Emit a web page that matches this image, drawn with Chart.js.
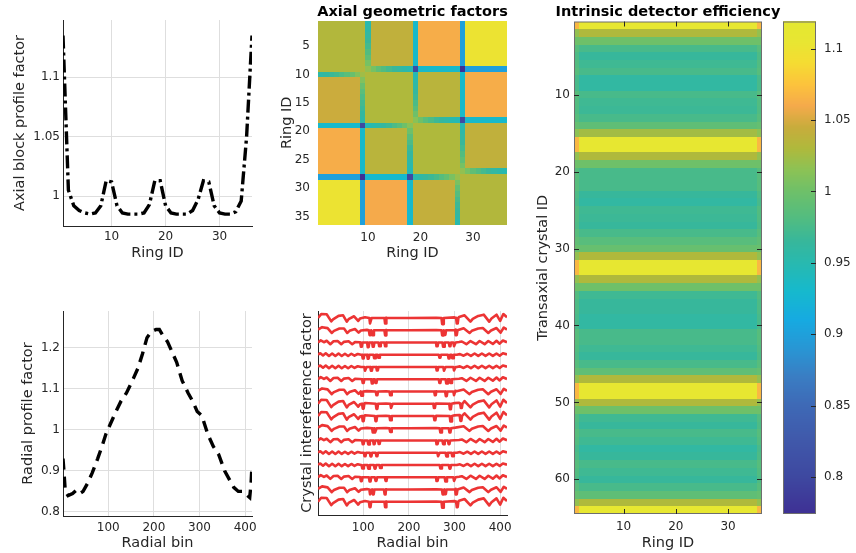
<!DOCTYPE html>
<html>
<head>
<meta charset="utf-8">
<title>Normalization components</title>
<script src="https://cdn.jsdelivr.net/npm/chart.js@4.4.1/dist/chart.umd.min.js"></script>
<style>
  html, body { margin: 0; padding: 0; background: #fff; }
  #fig { position: relative; width: 856px; height: 553px; overflow: hidden; background: #fff; }
  #fig canvas { position: absolute; }
</style>
</head>
<body>
<div id="fig">
  <canvas id="cBlock"></canvas>
  <canvas id="cGeom"></canvas>
  <canvas id="cEff"></canvas>
  <canvas id="cBar"></canvas>
  <canvas id="cRadial"></canvas>
  <canvas id="cCrystal"></canvas>
</div>
<script>
/* ---------------- values ---------------- */
const ringIds = [1,2,3,4,5,6,7,8,9,10,11,12,13,14,15,16,17,18,19,20,21,22,23,24,25,26,27,28,29,30,31,32,33,34,35,36];
const blockProfile = [1.135,1.005,0.992,0.988,0.986,0.985,0.986,0.992,1.013,1.012,0.992,0.986,0.985,0.985,0.985,0.986,0.993,1.013,
                      1.013,0.992,0.986,0.985,0.985,0.985,0.988,0.997,1.013,1.012,0.992,0.986,0.985,0.985,0.987,0.996,1.05,1.135];
const blockTicksX = [10, 20, 30];
const blockTicksY = [1, 1.05, 1.1];

const radialBins    = [1,3,6,12,22,30,38,45,55,65,77,88,95,105,115,128,140,155,165,175,185,195,205,212,220,230,240,250,
                       262,275,285,295,305,318,330,342,355,365,375,385,395,405,410,413,415];
const radialProfile = [0.93,0.90,0.85,0.84,0.845,0.853,0.845,0.85,0.87,0.895,0.93,0.965,0.99,1.015,1.04,1.07,1.09,1.125,1.15,1.185,1.225,1.24,1.245,1.245,
                       1.23,1.215,1.19,1.165,1.12,1.09,1.07,1.045,1.035,0.99,0.96,0.94,0.9,0.88,0.86,0.85,0.85,0.84,0.835,0.87,0.915];
const radialTicksX = [100, 200, 300, 400];
const radialTicksY = [0.8, 0.9, 1, 1.1, 1.2];

// crystal interference: edge ripple shapes ([bin, offset]) and per-line notches ([bin, depth])
const wiggleBig   = [[1,0],[8,.32],[20,.3],[30,-.28],[34,-.12],[46,.17],[56,.22],[64,-.3],[68,-.1],[80,.14],[89,-.24],[93,-.05],[104,.06],[150,.02],[200,0],
                     [260,.02],[300,.05],[310,.08],[322,.22],[335,-.3],[340,-.08],[352,.17],[364,.27],[376,-.3],[381,-.05],[392,.27],[400,-.24],[407,.32],[415,.05]];
const wiggleMid   = [[1,.05],[10,.25],[22,.17],[31,-.22],[36,-.05],[48,.14],[58,.14],[65,-.22],[70,-.05],[82,.1],[90,-.2],[95,-.02],[108,.03],[150,.02],[200,0],
                     [260,.01],[302,.05],[320,.16],[333,-.22],[338,-.05],[352,.14],[362,.18],[374,-.22],[380,-.02],[392,.18],[401,-.2],[408,.22],[415,.05]];
const wiggleSmall = [[1,0],[7,.17],[14,.02],[20,.14],[28,-.14],[35,.1],[44,.12],[52,-.14],[58,.05],[68,.1],[76,-.14],[82,.03],[92,.02],[150,0],[200,0],
                     [260,0],[310,.04],[316,.08],[326,-.14],[335,.12],[347,-.14],[355,.12],[366,-.14],[374,.12],[384,-.12],[392,.14],[399,-.1],[406,.16],[415,.02]];
const wiggleFlat  = [[1,.02],[6,.12],[12,-.06],[18,.12],[25,-.1],[32,.1],[39,-.1],[46,.1],[53,-.1],[60,.08],[67,-.1],[74,.08],[81,-.08],[88,.06],[95,0],[200,0],
                     [305,0],[312,.05],[320,-.08],[328,.08],[336,-.1],[344,.1],[352,-.1],[360,.1],[368,-.1],[376,.1],[384,-.1],[392,.1],[399,-.08],[406,.12],[415,.02]];
const lineWiggle = ['big','mid','small','flat','flat','small','mid','big','big','mid','small','flat','flat','small','mid','big'];
const lineNotches = [
  [[116,-.45],[149,-.45],[274,-.5],[306,-.45]],
  [[115,-.4],[121,-.4],[149,-.42],[274,-.42],[279,-.38],[304,-.4]],
  [[96,-.35],[111,-.38],[122,-.35],[136,-.3],[149,-.3],[262,-.3],[276,-.35],[290,-.3],[300,-.3]],
  [[100,-.3],[111,-.32],[125,-.28],[134,-.25],[268,-.25],[288,-.3],[296,-.28]],
  [[105,-.3],[118,-.3],[131,-.28],[262,-.28],[278,-.3],[300,-.28]],
  [[100,-.3],[120,-.35],[128,-.3],[268,-.3],[283,-.35],[292,-.3]],
  [[97,-.35],[130,-.3],[160,-.3],[258,-.3],[282,-.38],[300,-.3]],
  [[100,-.4],[130,-.42],[162,-.35],[256,-.35],[291,-.45],[315,-.35]],
  [[100,-.42],[128,-.42],[160,-.35],[257,-.35],[292,-.45],[314,-.4]],
  [[122,-.35],[127,-.35],[160,-.3],[270,-.35],[290,-.35]],
  [[100,-.3],[112,-.32],[124,-.3],[135,-.28],[262,-.3],[276,-.3],[288,-.3]],
  [[104,-.28],[117,-.3],[130,-.28],[265,-.28],[283,-.3],[296,-.28]],
  [[99,-.28],[112,-.3],[126,-.3],[138,-.25],[270,-.28],[290,-.3]],
  [[96,-.32],[115,-.35],[128,-.3],[150,-.3],[262,-.3],[281,-.35],[300,-.3]],
  [[116,-.4],[122,-.4],[148,-.4],[275,-.4],[280,-.38],[304,-.4]],
  [[115,-.45],[149,-.45],[274,-.5],[306,-.45]]
];

// axial geometric factors: level per block pair, dip on block-edge rings by block separation
const ringsPerBlock = 9;
const geomBlockLevel = [
  [1.032, 1.040, 1.062, 1.100],
  [1.046, 1.030, 1.036, 1.062],
  [1.062, 1.036, 1.030, 1.040],
  [1.100, 1.060, 1.042, 1.032]
];
const geomEdgeDip = [0.09, 0.13, 0.2];
// adjacent-block dips fade toward the diagonal junction (index = rings away from it)
const geomAdjFade = [0.25, 0.4, 0.55, 0.65, 0.75, 0.82, 0.88, 0.94, 1];
const geomTicksX = [10, 20, 30];
const geomTicksY = [5, 10, 15, 20, 25, 30, 35];

// intrinsic detector efficiency: per transaxial crystal, and per-ring gain
const crystalEff = [1.11,1.03,1.0,0.975,0.965,0.97,0.975,0.96,0.96,0.975,0.97,0.968,0.975,0.99,1.025,1.11,
                    1.11,1.03,1.0,0.975,0.975,0.975,0.965,0.96,0.97,0.968,0.965,0.975,0.985,0.995,1.03,1.11,
                    1.11,1.03,1.0,0.97,0.965,0.965,0.96,0.96,0.975,0.975,0.97,0.965,0.975,0.99,1.03,1.11,
                    1.11,1.03,1.0,0.97,0.965,0.975,0.97,0.96,0.965,0.975,0.97,0.965,0.975,0.99,1.03,1.11];
const ringGain = [0.62,1,1,1,1,1,1,1,1,1,1,1,1,1,1,1,1,1,1,1,1,1,1,1,1,1,1,1,1,1,1,1,1,1,1,0.62];
const effTicksX = [10, 20, 30];
const effTicksY = [10, 20, 30, 40, 50, 60];

const cbarRange = [0.774, 1.119];
const cbarTicks = [0.8, 0.85, 0.9, 0.95, 1, 1.05, 1.1];
const cmapStops = [
  [0.774,[62,48,148]],[0.80,[62,72,160]],[0.825,[64,88,170]],[0.85,[62,105,182]],[0.87,[58,125,195]],
  [0.89,[40,150,212]],[0.91,[22,170,225]],[0.93,[22,185,205]],[0.95,[40,185,175]],[0.965,[55,183,155]],
  [0.98,[80,188,130]],[1.0,[110,192,105]],[1.015,[140,194,85]],[1.03,[175,185,60]],[1.045,[200,172,60]],
  [1.06,[245,170,75]],[1.075,[252,195,60]],[1.09,[245,220,50]],[1.105,[232,230,50]],[1.119,[228,232,48]]
];

/* ---------------- helpers ---------------- */
const AXIS = '#262626', GRID = '#dedede', FRAME = '#6e6e6e', FONT = '"DejaVu Sans", sans-serif';
Chart.defaults.font.family = FONT;
Chart.defaults.color = AXIS;
Chart.defaults.animation = false;
Chart.defaults.responsive = false;
Chart.defaults.events = [];
Chart.defaults.plugins.legend.display = false;
Chart.defaults.plugins.tooltip.enabled = false;

const fmt = v => String(Math.round(v * 1000) / 1000);

function cmap(v) {
  const s = cmapStops;
  if (v <= s[0][0]) return `rgb(${s[0][1]})`;
  for (let i = 1; i < s.length; i++) {
    if (v <= s[i][0]) {
      const t = (v - s[i - 1][0]) / (s[i][0] - s[i - 1][0]), a = s[i - 1][1], b = s[i][1];
      return `rgb(${a.map((c, k) => Math.round(c + (b[k] - c) * t)).join(',')})`;
    }
  }
  return `rgb(${s[s.length - 1][1]})`;
}

function place(id, x, y, w, h) {
  const el = document.getElementById(id);
  el.width = w; el.height = h;
  Object.assign(el.style, { left: x + 'px', top: y + 'px', width: w + 'px', height: h + 'px' });
  return el;
}

function axis(o) {
  return {
    type: 'linear', position: o.position, min: o.min, max: o.max, reverse: !!o.reverse, display: o.display !== false,
    afterBuildTicks: s => { s.ticks = (o.ticks || []).map(v => ({ value: v })); },
    afterFit: s => { if (s.isHorizontal()) s.height = o.size; else s.width = o.size; },
    grid: { display: !!o.grid, color: GRID, drawTicks: false, lineWidth: 1 },
    border: { display: !!o.border, color: AXIS, width: 1 },
    ticks: { display: o.showTicks !== false, padding: o.pad || 0, autoSkip: false, maxRotation: 0, color: AXIS, font: { size: 12 }, callback: v => fmt(v) },
    title: o.title ? { display: true, text: o.title, color: AXIS, font: { size: 14.5 }, padding: o.titlePad } : { display: false }
  };
}

const heatmap = (matrix) => ({
  id: 'heatmap',
  beforeDatasetsDraw(chart) {
    const { ctx, scales: { x, y }, chartArea: a } = chart;
    ctx.save();
    ctx.beginPath(); ctx.rect(a.left, a.top, a.width, a.height); ctx.clip();
    matrix.forEach((row, r) => row.forEach((v, c) => {
      const x0 = Math.round(x.getPixelForValue(c + 0.5)), x1 = Math.round(x.getPixelForValue(c + 1.5));
      const y0 = Math.round(y.getPixelForValue(r + 0.5)), y1 = Math.round(y.getPixelForValue(r + 1.5));
      ctx.fillStyle = cmap(v);
      ctx.fillRect(Math.min(x0, x1), Math.min(y0, y1), Math.abs(x1 - x0), Math.abs(y1 - y0));
    }));
    ctx.restore();
  }
});

// box + inward tick marks (MATLAB image axes / colorbar look)
const frame = (xTicks, yTicks, sides, len) => ({
  id: 'frame',
  afterDraw(chart) {
    const { ctx, chartArea: a, scales } = chart;
    ctx.save();
    ctx.lineWidth = 1;
    ctx.strokeStyle = FRAME;
    ctx.strokeRect(a.left + 0.5, a.top + 0.5, a.width - 1, a.height - 1);
    ctx.strokeStyle = AXIS;
    ctx.beginPath();
    xTicks.forEach(v => {
      const p = Math.round(scales.x.getPixelForValue(v)) + 0.5;
      if (sides.includes('t')) { ctx.moveTo(p, a.top); ctx.lineTo(p, a.top + len); }
      if (sides.includes('b')) { ctx.moveTo(p, a.bottom); ctx.lineTo(p, a.bottom - len); }
    });
    yTicks.forEach(v => {
      const p = Math.round(scales.y.getPixelForValue(v)) + 0.5;
      if (sides.includes('l')) { ctx.moveTo(a.left, p); ctx.lineTo(a.left + len, p); }
      if (sides.includes('r')) { ctx.moveTo(a.right, p); ctx.lineTo(a.right - len, p); }
    });
    ctx.stroke();
    ctx.restore();
  }
});

const colorStrip = {
  id: 'colorStrip',
  beforeDatasetsDraw(chart) {
    const { ctx, chartArea: a, scales: { y } } = chart;
    ctx.save();
    for (let py = Math.floor(a.top); py < a.bottom; py++) {
      ctx.fillStyle = cmap(y.getValueForPixel(py + 0.5));
      ctx.fillRect(a.left, py, a.width, 1);
    }
    ctx.restore();
  }
};

// bold title centred over the plot area; may run wider than the axes like MATLAB's
const panelTitle = (text, cy) => ({
  id: 'panelTitle',
  afterDraw(chart) {
    const { ctx, chartArea: a } = chart;
    ctx.save();
    ctx.font = `bold 14.5px ${FONT}`;
    ctx.fillStyle = '#000';
    ctx.textAlign = 'center';
    ctx.textBaseline = 'middle';
    ctx.fillText(text, (a.left + a.right) / 2, cy);
    ctx.restore();
  }
});

/* ---------------- top-left: axial block profile ---------------- */
new Chart(place('cBlock', 0, 0, 300, 270), {
  type: 'line',
  data: { datasets: [{
    data: ringIds.map((r, i) => ({ x: r, y: blockProfile[i] })),
    borderColor: '#000', borderWidth: 3.4, borderDash: [13, 4, 3, 4], borderCapStyle: 'butt',
    pointRadius: 0, tension: 0
  }]},
  options: {
    layout: { padding: { top: 20, right: 48, left: 0, bottom: 0 } },
    scales: {
      x: axis({ position: 'bottom', min: 1, max: 36, ticks: blockTicksX, size: 44, pad: 4, grid: true, border: true, title: 'Ring ID', titlePad: { bottom: 7.6 } }),
      y: axis({ position: 'left', min: 0.975, max: 1.148, ticks: blockTicksY, size: 63, pad: 3, grid: true, border: true, title: 'Axial block profile factor', titlePad: { top: 11.6 } })
    }
  }
});

/* ---------------- top-middle: axial geometric factors ---------------- */
const blockOf = i => Math.floor((i - 1) / ringsPerBlock);
const facesBlock = (i, other) => other > blockOf(i) ? i % ringsPerBlock === 0 : (i - 1) % ringsPerBlock === 0;
const geomMatrix = ringIds.map(i => ringIds.map(j => {
  const bi = blockOf(i), bj = blockOf(j), level = geomBlockLevel[bi][bj];
  if (bi === bj) return level;
  const sep = Math.abs(bi - bj), dip = geomEdgeDip[sep - 1];
  const rowHit = facesBlock(i, bj), colHit = facesBlock(j, bi);
  if (sep === 1) {
    if (!rowHit && !colHit) return level;
    // distance along the line away from the junction next to the diagonal
    const along = rowHit && !colHit ? Math.abs(j - i) - 1 : !rowHit && colHit ? Math.abs(i - j) - 1 : 0;
    return level - dip * geomAdjFade[Math.min(along, geomAdjFade.length - 1)];
  }
  return level - dip * ((rowHit ? 1 : 0) + (colHit ? 1 : 0));
}));

new Chart(place('cGeom', 270, 0, 250, 270), {
  type: 'line',
  data: { datasets: [] },
  options: {
    layout: { padding: { top: 20.5, right: 13, left: 0, bottom: 0 } },
    scales: {
      x: axis({ position: 'bottom', min: 0.5, max: 36.5, ticks: geomTicksX, size: 45, pad: 6, title: 'Ring ID', titlePad: { bottom: 7.6 } }),
      y: axis({ position: 'left', min: 0.5, max: 36.5, reverse: true, ticks: geomTicksY, size: 48, pad: 8, title: 'Ring ID', titlePad: { top: 8.3 } })
    }
  },
  plugins: [heatmap(geomMatrix), panelTitle('Axial geometric factors', 12)]
});

/* ---------------- right: intrinsic detector efficiency ---------------- */
const effMatrix = crystalEff.map(e => ringGain.map(g => 1 + (e - 1) * g));

new Chart(place('cEff', 525, 0, 280, 553), {
  type: 'line',
  data: { datasets: [] },
  options: {
    layout: { padding: { top: 21.5, right: 43, left: 0, bottom: 0 } },
    scales: {
      x: axis({ position: 'bottom', min: 0.5, max: 36.5, ticks: effTicksX, size: 39, pad: 6, title: 'Ring ID', titlePad: { bottom: 1.3 } }),
      y: axis({ position: 'left', min: 0.5, max: 64.5, reverse: true, ticks: effTicksY, size: 49, pad: 4, title: 'Transaxial crystal ID', titlePad: { top: 9.6 } })
    }
  },
  plugins: [heatmap(effMatrix), frame(effTicksX, effTicksY, 'tblr', 5), panelTitle('Intrinsic detector efficiency', 12)]
});

new Chart(place('cBar', 775, 0, 81, 553), {
  type: 'line',
  data: { datasets: [] },
  options: {
    layout: { padding: { top: 21.5, right: 0, left: 8, bottom: 39 } },
    scales: {
      x: { display: false },
      y: axis({ position: 'right', min: cbarRange[0], max: cbarRange[1], ticks: cbarTicks, size: 40, pad: 8 })
    }
  },
  plugins: [colorStrip, frame([], cbarTicks, 'r', 5)]
});

/* ---------------- bottom-left: radial profile ---------------- */
new Chart(place('cRadial', 0, 290, 300, 263), {
  type: 'line',
  data: { datasets: [{
    data: radialBins.map((b, i) => ({ x: b, y: radialProfile[i] })),
    borderColor: '#000', borderWidth: 3.4, borderDash: [11, 7], borderCapStyle: 'butt',
    pointRadius: 0, tension: 0
  }]},
  options: {
    layout: { padding: { top: 21, right: 48, left: 0, bottom: 0 } },
    scales: {
      x: axis({ position: 'bottom', min: 1, max: 415, ticks: radialTicksX, size: 37, pad: 5, grid: true, border: true, title: 'Radial bin', titlePad: { bottom: 1.3 } }),
      y: axis({ position: 'left', min: 0.79, max: 1.29, ticks: radialTicksY, size: 63, pad: 3, grid: true, border: true, title: 'Radial profile factor', titlePad: { top: 19.1 } })
    }
  }
});

/* ---------------- bottom-middle: crystal interference ---------------- */
const wiggles = { big: wiggleBig, mid: wiggleMid, small: wiggleSmall, flat: wiggleFlat };
const crystalSets = lineWiggle.map((kind, k) => {
  const pts = wiggles[kind].slice();
  lineNotches[k].forEach(([b, d]) => pts.push([b - 2.5, 0], [b - 1, d], [b + 1, d], [b + 2.5, 0]));
  pts.sort((p, q) => p[0] - q[0]);
  const level = lineWiggle.length - k;   // stacked one unit apart, first line on top
  return {
    data: pts.map(([b, d]) => ({ x: b, y: level + d })),
    borderColor: 'rgb(236,52,52)', borderWidth: 2.6, borderJoinStyle: 'round', pointRadius: 0, tension: 0
  };
});

new Chart(place('cCrystal', 280, 290, 240, 263), {
  type: 'line',
  data: { datasets: crystalSets },
  options: {
    layout: { padding: { top: 21, right: 13, left: 0, bottom: 0 } },
    scales: {
      x: axis({ position: 'bottom', min: 1, max: 415, ticks: radialTicksX, size: 38, pad: 6, grid: true, border: true, title: 'Radial bin', titlePad: { bottom: 1.3 } }),
      y: axis({ position: 'left', min: -0.086, max: 16.57, ticks: [], size: 38, showTicks: false, border: true, title: 'Crystal intereference factor', titlePad: { top: 18.3 } })
    }
  }
});
</script>
</body>
</html>
